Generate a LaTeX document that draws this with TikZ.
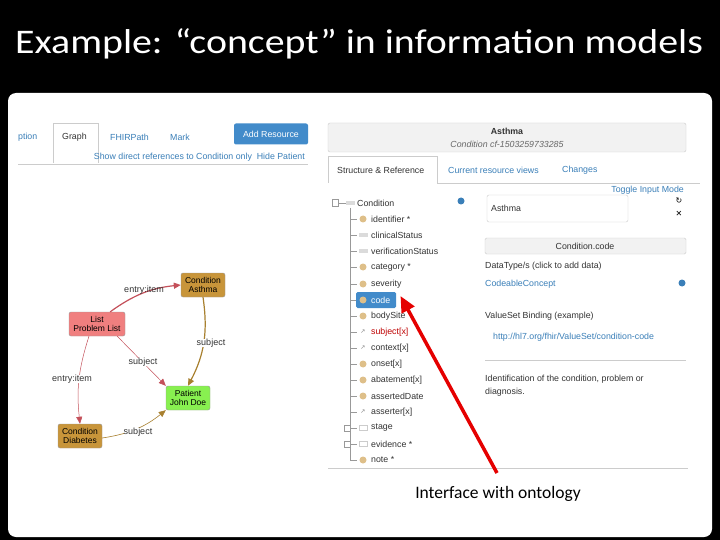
\documentclass[tikz,border=0pt]{standalone}
\usepackage{fontspec}
\setmainfont{Liberation Sans}
\newfontfamily\calfont{Carlito}
\newfontfamily\djfont{DejaVu Sans}
\usetikzlibrary{arrows.meta}
\definecolor{lnk}{HTML}{3A7FB8}
\definecolor{btn}{HTML}{428BCA}
\definecolor{brn}{HTML}{C8953A}
\definecolor{brnl}{HTML}{A8802F}
\definecolor{pink}{HTML}{F07F7F}
\definecolor{redl}{HTML}{C4505A}
\definecolor{grn}{HTML}{88F050}
\definecolor{gb}{HTML}{F2F2F2}
\definecolor{gl}{HTML}{CCCCCC}
\tikzset{
 ui/.style={font=\fontsize{8.8}{9.5}\selectfont,inner sep=0pt,anchor=west,text=black!80},
 link/.style={ui,text=lnk},
 gnode/.style={draw=black!40,rounded corners=2pt,minimum width=44pt,minimum height=24pt,align=center,font=\fontsize{8.5}{9}\selectfont,inner sep=1pt},
 elab/.style={font=\fontsize{9}{9.5}\selectfont,inner sep=0pt,text=black!80},
 icon/.style={circle,fill=brn!60,minimum size=7pt,inner sep=0pt},
 folder/.style={fill=gl!70,minimum width=9pt,minimum height=4pt,inner sep=0pt},
 tree/.style={draw=black!40,line width=0.4pt},
 sep/.style={draw=gl,line width=0.6pt},
}
\begin{document}
\begin{tikzpicture}[x=1pt,y=-1pt]
\useasboundingbox (0,0) rectangle (720,540);
\fill[black] (0,0) rectangle (720,540);
\node[anchor=west,text=white,font=\calfont\fontsize{34.5}{36}\selectfont,inner sep=0pt] (title) at (15,44) {\scalebox{1.155}[1]{Example: “concept” in information models}};
\fill[white,rounded corners=8pt] (8,93) rectangle (712,537);
% left tabs
\node[ui,text=lnk] (t1) at (18,137) {ption};
\draw[gl,fill=white] (53,163) -- (53,123) -- (98,123) -- (98,163);
\node[ui] (t2) at (62,137) {Graph};
\node[link] (t3) at (110,137) {FHIRPath};
\node[link] (t4) at (170,137) {Mark};
\node[fill=btn,text=white,rounded corners=2pt,minimum width=74pt,minimum height=21pt,font=\fontsize{8.8}{9.5}\selectfont] (add) at (271,134) {Add Resource};
\node[link,anchor=east] (show) at (305,157) {Show direct references to Condition only \ Hide Patient};
\draw[sep] (18,164) -- (308,164);
% graph
\node[gnode,fill=brn] (ast) at (203,285) {Condition\\Asthma};
\node[gnode,fill=pink,minimum width=56pt] (lst) at (97,324) {List\\Problem List};
\node[gnode,fill=grn] (pat) at (188,398) {Patient\\John Doe};
\node[gnode,fill=brn] (dia) at (80,436) {Condition\\Diabetes};
\draw[redl,line width=1.2pt,-{Triangle[length=7pt,width=6pt]}] (lst.north east) ++(-15,0) to[bend left=15] (ast.west);
\node[elab] (l1) at (144,290) {entry:item};
\draw[brnl,line width=1.2pt,-{Triangle[length=7pt,width=6pt]}] (ast.south) ++(0,0) to[bend left=18] (pat.north);
\node[elab,fill=white] (l2) at (211,343) {subject};
\draw[redl,line width=0.5pt,-{Triangle[length=7pt,width=6pt]}] (lst.south east) ++(-8,0) -- (pat.north west);
\node[elab,fill=white] (l3) at (143,362) {subject};
\draw[redl,line width=0.5pt,-{Triangle[length=7pt,width=6pt]}] (lst.south) ++(-8,0) to[bend right=12] (dia.north);
\node[elab,fill=white] (l4) at (72,379) {entry:item};
\draw[brnl,line width=0.6pt,-{Triangle[length=7pt,width=6pt]}] (dia.east) ++(0,2) to[bend right=15] (pat.south west);
\node[elab,fill=white] (l5) at (138,432) {subject};
% right header
\draw[gl,fill=gb,rounded corners=2pt] (328,123) rectangle (686,152);
\node[ui,anchor=center,font=\bfseries\fontsize{8.8}{9.5}\selectfont] (hd) at (507,131) {Asthma};
\node[ui,anchor=center,font=\itshape\fontsize{8.8}{9.5}\selectfont,text=black!60] (hd2) at (507,144) {Condition cf-1503259733285};
\draw[gl,fill=white] (328,183) -- (328,156) -- (437,156) -- (437,183);
\node[ui] (s1) at (337,170) {Structure \& Reference};
\node[link] (s2) at (448,170) {Current resource views};
\node[link] (s3) at (562,170) {Changes};
\draw[sep] (437,183) -- (700,183);
% tree
\draw[tree] (332,199) rectangle (338,206);
\draw[tree] (338,203) -- (346,203);
\draw[tree] (350,208) -- (350,460) -- (357,460);
\node[folder] (fc) at (350,203) {};
\node[ui] (n0) at (357,203) {Condition};
\foreach \y/\t/\k in {219/identifier */i,235/clinicalStatus/f,251/verificationStatus/f,267/category */i,284/severity/i,316/bodySite/i,332/{\textcolor{red!75!black}{subject[x]}}/l,348/context[x]/l,364/onset[x]/i,380/abatement[x]/i,396/assertedDate/i,412/asserter[x]/l,428/stage/p,444/evidence */p,460/note */i}{
  \draw[tree] (350,\y) -- (357,\y);
  \node[ui] at (371,\y) {\t};
  \if\k i \node[icon] at (363,\y) {};\fi
}
\foreach \y in {235,251}{\node[folder] at (363,\y) {};}
\foreach \y in {332,348,412}{\node[font=\djfont\fontsize{6}{6}\selectfont,text=black!50] at (363,\y) {↗};}
\foreach \y in {428,444}{\draw[tree,fill=white] (344,\y-3) rectangle (350,\y+3); \draw[gl] (359,\y-2.5) rectangle (367,\y+2.5);}
\draw[tree] (350,300) -- (357,300);
\fill[btn,rounded corners=1.5pt] (356,292) rectangle (396,308);
\node[icon] (ci) at (363,300) {};
\node[ui,text=white] (code) at (371,300) {code};
\node[circle,fill=lnk,minimum size=7pt,inner sep=0pt] (g1) at (461,201) {};
% detail
\node[link,anchor=east] (tog) at (684,190) {Toggle Input Mode};
\draw[gl,rounded corners=2pt] (487,195) rectangle (628,222);
\node[ui] (inp) at (491,208) {Asthma};
\node[font=\djfont\fontsize{8}{8}\selectfont] (ed) at (679,201) {↻};
\node[font=\djfont\bfseries\fontsize{8}{8}\selectfont] (xx) at (679,214) {✕};
\draw[gl,fill=gb,rounded corners=1.5pt] (485,238) rectangle (686,254);
\node[ui,anchor=center] (cc) at (585,246) {Condition.code};
\node[ui] (dt) at (485,266) {DataType/s (click to add data)};
\node[link] (cod) at (485,284) {CodeableConcept};
\node[circle,fill=lnk,minimum size=7pt,inner sep=0pt] (g2) at (682,283) {};
\node[ui] (vs) at (485,316) {ValueSet Binding (example)};
\node[link] (url) at (493,337) {http://hl7.org/fhir/ValueSet/condition-code};
\draw[sep] (485,360) -- (686,360);
\node[ui,align=left,anchor=north west,font=\fontsize{8.8}{13}\selectfont] (desc) at (485,375) {Identification of the condition, problem or\\diagnosis.};
\draw[sep] (328,468) -- (688,468);
% arrow
\coordinate (tail) at (497,473);
\draw[red!90!black,line width=3.5pt,-{Triangle[length=16pt,width=14pt]}] (tail) -- ([xshift=10pt,yshift=4pt]code.east);
\node[font=\calfont\fontsize{17.5}{19}\selectfont,inner sep=0pt] (cap) at (498,494) {Interface with ontology};
\end{tikzpicture}
\end{document}
